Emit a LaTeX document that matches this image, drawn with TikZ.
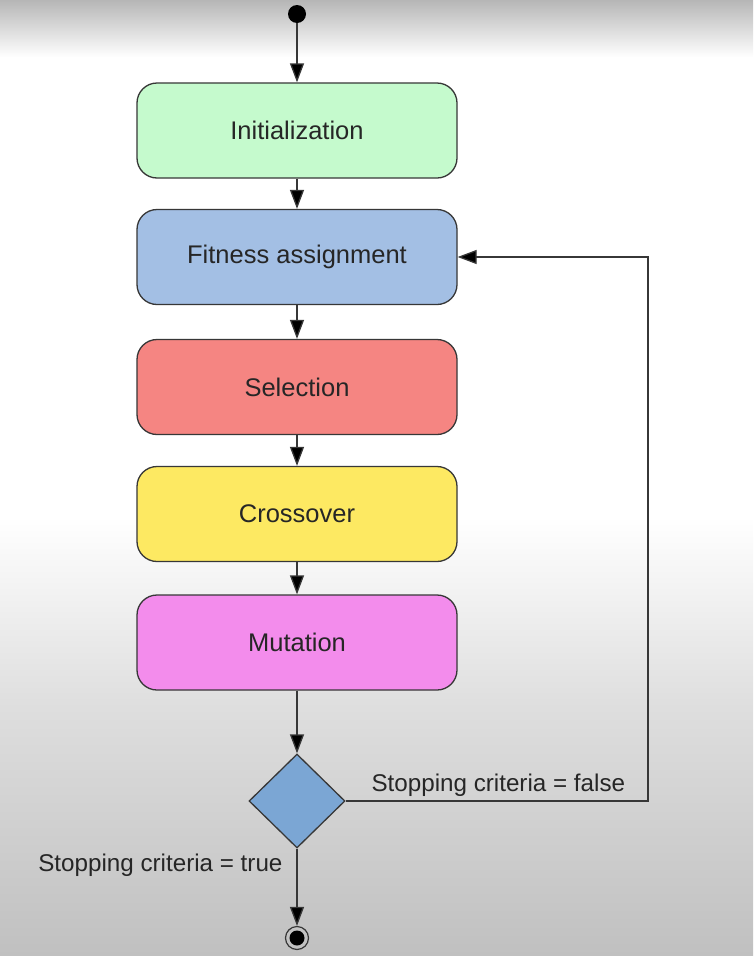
\documentclass[tikz,border=0pt]{standalone}
\usepackage{fontspec}
\setmainfont{Liberation Sans}
\usepackage{tikz}
\usetikzlibrary{shapes.geometric, arrows.meta, positioning}

\definecolor{initgreen}{RGB}{197,250,205}
\definecolor{fitblue}{RGB}{163,191,228}
\definecolor{selred}{RGB}{245,133,130}
\definecolor{crossyellow}{RGB}{253,233,98}
\definecolor{mutpink}{RGB}{243,140,236}
\definecolor{decblue}{RGB}{123,166,212}
\definecolor{linegray}{RGB}{55,55,55}
\definecolor{bgtop}{RGB}{182,182,182}
\definecolor{bgmid}{RGB}{222,222,222}
\definecolor{bgbottom}{RGB}{192,192,192}

% the picture is fitted into 25bp..75bp of the shading
\pgfdeclareverticalshading{backdrop}{100bp}{color(0bp)=(bgbottom); color(25bp)=(bgbottom); color(38bp)=(bgmid); color(48bp)=(white); color(72bp)=(white); color(75bp)=(bgtop); color(100bp)=(bgtop)}

\tikzset{
    stage/.style={draw=linegray, line width=1.3pt, rounded corners=20pt, minimum width=320pt, minimum height=95pt, font=\fontsize{25.5}{30}\selectfont, text=black!85},
    flow/.style={draw=linegray, line width=1.3pt, -{Triangle[length=19pt, width=14pt, fill=black]}},
    guard/.style={font=\fontsize{24.2}{28}\selectfont, text=black!85}
}

\begin{document}
\begin{tikzpicture}[x=1pt, y=-1pt]
        % background
        \shade[shading=backdrop] (0, 0) rectangle (753, 956);
        \useasboundingbox (0, 0) rectangle (753, 956);

        % start
        \node[circle, fill=black, minimum size=18pt, inner sep=0pt] (start) at (297, 14) {};

        % stages
        \node[stage, fill=initgreen] (init) at (297, 130.5) {Initialization};
        \node[stage, fill=fitblue] (fit) at (297, 257) {Fitness assignment};
        \node[stage, fill=selred] (sel) at (297, 387) {Selection};
        \node[stage, fill=crossyellow] (cross) at (297, 514) {Crossover};
        \node[stage, fill=mutpink] (mut) at (297, 642.5) {Mutation};

        % decision
        \node[diamond, draw=linegray, line width=1.3pt, fill=decblue, minimum width=96pt, minimum height=94pt, inner sep=0pt] (dec) at (297, 801) {};

        % stop
        \node[circle, draw=linegray, line width=1.2pt, minimum size=23pt, inner sep=0pt,
              path picture={\fill (path picture bounding box.center) circle (7.5pt);}] (stop) at (297, 938) {};

        % arrows down
        \draw[flow] (start) -- (init);
        \draw[flow] (init) -- (fit);
        \draw[flow] (fit) -- (sel);
        \draw[flow] (sel) -- (cross);
        \draw[flow] (cross) -- (mut);
        \draw[flow] (mut) -- (dec);
        \draw[flow] (dec) -- (stop);

        % loop back
        \coordinate (loop) at (648, 801);
        \draw[flow] (dec.east) -- (loop) |- (fit.east);

        % labels
        \node[guard, anchor=base west] (falselabel) at (368, 791) {Stopping criteria = false};
        \node[guard, anchor=base east] (truelabel) at (286, 871) {Stopping criteria = true};
    \end{tikzpicture}
\end{document}
